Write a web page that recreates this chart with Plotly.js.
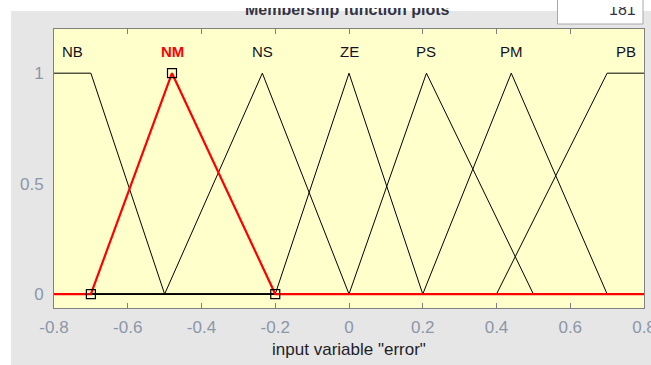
<!DOCTYPE html>
<html>
<head>
<meta charset="utf-8">
<script src="https://cdn.plot.ly/plotly-3.0.1.min.js"></script>
<style>
html,body{margin:0;padding:0;background:#fff;}
#wrap{position:relative;width:651px;height:365px;overflow:hidden;}
#chart{width:651px;height:365px;}
.cover{position:absolute;top:0;background:#ffffff;pointer-events:none;}
</style>
</head>
<body>
<div id="wrap">
<div id="chart"></div>
<div class="cover" style="left:0;width:557px;height:8px;"></div>
<div class="cover" style="left:559px;width:83px;height:7px;"></div>
</div>
<script>
// ---- data ----
const xRange = [-0.8, 0.8];
const mfNames = ['NB', 'NM', 'NS', 'ZE', 'PS', 'PM', 'PB'];
const mfTypes = ['trapmf', 'trimf', 'trimf', 'trimf', 'trimf', 'trimf', 'trapmf'];
const NB = [-0.8, -0.8, -0.7, -0.5];
const NM = [-0.7, -0.48, -0.2];
const NS = [-0.5, -0.235, 0];
const ZE = [-0.2, 0, 0.2];
const PS = [0, 0.21, 0.5];
const PM = [0.2, 0.44, 0.7];
const PB = [0.4, 0.7, 0.8, 0.8];
const mfParams = [NB, NM, NS, ZE, PS, PM, PB];
const selectedIndex = 1;
const xTickVals = [-0.8, -0.6, -0.4, -0.2, 0, 0.2, 0.4, 0.6, 0.8];
const xTickText = ['-0.8', '-0.6', '-0.4', '-0.2', '0', '0.2', '0.4', '0.6', '0.8'];
const yTickVals = [0, 0.5, 1];
const yTickText = ['0', '0.5', '1'];
const plotTitle = 'Membership function plots';
const xLabel = 'input variable "error"';
const pointsText = '181';

// ---- membership evaluation ----
function mfValue(type, p, x) {
  if (type === 'trimf') {
    const [a, b, c] = p;
    if (x === b) return 1;
    if (x <= a || x >= c) return 0;
    if (x < b) return (x - a) / (b - a);
    return (c - x) / (c - b);
  }
  const [a, b, c, d] = p;
  if (x >= b && x <= c) return 1;
  if (x <= a || x >= d) return 0;
  if (x < b) return (x - a) / (b - a);
  return (d - x) / (d - c);
}
function mfCurve(type, p) {
  const xs = [xRange[0]].concat(p, [xRange[1]]);
  const uniq = xs.filter((v, i) => i === 0 || v !== xs[i - 1]).sort((u, v) => u - v);
  return { x: uniq, y: uniq.map(v => mfValue(type, p, v)) };
}
function labelX(type, p) {
  return type === 'trimf' ? p[1] : (p[1] + p[2]) / 2;
}

const FONT = 'Liberation Sans, Arial, sans-serif';
const traces = [];
const order = mfNames.map((_, i) => i).filter(i => i !== selectedIndex).concat([selectedIndex]);
order.forEach(i => {
  const c = mfCurve(mfTypes[i], mfParams[i]);
  const sel = i === selectedIndex;
  traces.push({
    x: c.x, y: c.y, mode: 'lines', type: 'scatter', hoverinfo: 'skip',
    line: { color: sel ? '#ff0000' : '#000000', width: sel ? 2.2 : 1 },
    showlegend: false
  });
});
// square handles on selected MF
const selP = mfParams[selectedIndex];
traces.push({
  x: selP, y: selP.map(v => mfValue(mfTypes[selectedIndex], selP, v)),
  mode: 'markers', type: 'scatter', hoverinfo: 'skip', showlegend: false,
  marker: { symbol: 'square-open', size: 9, color: '#000000', line: { width: 1.2, color: '#000000' } }
});

const annotations = mfNames.map((n, i) => ({
  x: labelX(mfTypes[i], mfParams[i]), y: 1.1, xref: 'x', yref: 'y',
  text: i === selectedIndex ? '<b>' + n + '</b>' : n, showarrow: false,
  xanchor: 'center', yanchor: 'middle',
  font: { family: FONT, size: 15, color: i === selectedIndex ? '#ff0000' : '#111122' }
}));

const W = 651, H = 365, L = 54, R = 7, T = 29, B = 57;
const pw = W - L - R, ph = H - T - B;
const px = v => (v - L) / pw;
const py = v => (H - B - v) / ph;

annotations.push({
  x: px(347), y: py(9.5), xref: 'paper', yref: 'paper', text: '<b>' + plotTitle + '</b>',
  showarrow: false, xanchor: 'center', yanchor: 'middle',
  font: { family: FONT, size: 16, color: '#333344' }
});
annotations.push({
  x: px(638), y: py(9.5), xref: 'paper', yref: 'paper', text: pointsText,
  showarrow: false, xanchor: 'right', yanchor: 'middle',
  font: { family: FONT, size: 16, color: '#333344' }
});

const layout = {
  width: W, height: H,
  margin: { l: L, r: R, t: T, b: B, pad: 0 },
  paper_bgcolor: '#ffffff',
  plot_bgcolor: '#ffffcc',
  showlegend: false,
  font: { family: FONT },
  xaxis: {
    range: xRange, tickvals: xTickVals, ticktext: xTickText,
    ticks: 'inside', ticklen: 5, tickcolor: '#7f7f7f', tickwidth: 1,
    showline: true, linecolor: '#808080', linewidth: 1, mirror: 'ticks',
    showgrid: false, zeroline: false, fixedrange: true, automargin: false,
    tickfont: { family: FONT, size: 17, color: '#8c96a8' },
    ticklabelstandoff: 4, ticklabeloverflow: 'allow',
    title: { text: xLabel, font: { family: FONT, size: 17, color: '#1e1e2a' }, standoff: 6 }
  },
  yaxis: {
    range: [-0.063, 1.2], tickvals: yTickVals, ticktext: yTickText,
    ticks: '', showline: true, linecolor: '#808080', linewidth: 1, mirror: true,
    showgrid: false, zeroline: false, fixedrange: true, automargin: false,
    tickfont: { family: FONT, size: 17, color: '#8c96a8' },
    ticklabelstandoff: 6
  },
  shapes: [
    { type: 'rect', xref: 'paper', yref: 'paper', x0: px(11), x1: px(W + 2), y0: py(H + 2), y1: py(11),
      fillcolor: '#e6e6e6', line: { width: 0 }, layer: 'below' },
    { type: 'rect', xref: 'paper', yref: 'paper', x0: 0, x1: 1, y0: 0, y1: 1,
      fillcolor: '#ffffcc', line: { width: 0 }, layer: 'below' },
    { type: 'rect', xref: 'paper', yref: 'paper', x0: px(557.5), x1: px(643), y0: py(24), y1: py(-3),
      fillcolor: '#ffffff', line: { width: 1, color: '#a8a8a8' }, layer: 'below' }
  ],
  annotations: annotations
};

Plotly.newPlot('chart', traces, layout, { displayModeBar: false, staticPlot: true });
</script>
</body>
</html>
